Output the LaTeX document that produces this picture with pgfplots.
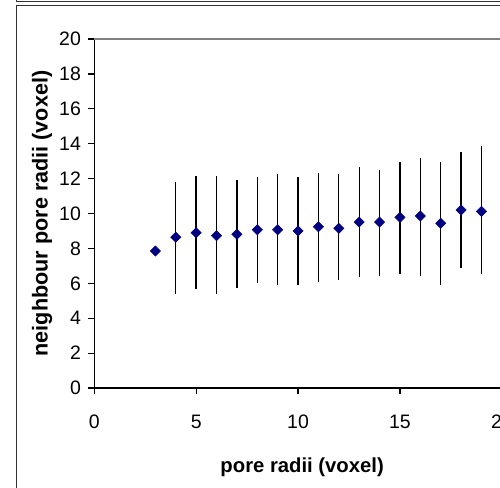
\documentclass[border=0pt]{standalone}
\usepackage{fontspec}
\setmainfont{Liberation Sans}
\usepackage{pgfplots}
\pgfplotsset{compat=1.18}
\usepackage{pgfplotstable}
\definecolor{excelnavy}{HTML}{000080}
\definecolor{framegray}{HTML}{333333}

% x, mean, error up, error down
\pgfplotstableread{
x  y      ep    em
3  7.85   0     0
4  8.64   3.15  3.25
5  8.90   3.25  3.25
6  8.73   3.42  3.34
7  8.81   3.09  3.06
8  9.07   3.00  3.07
9  9.07   3.17  3.17
10 9.00   3.07  3.10
11 9.24   3.10  3.15
12 9.15   3.09  2.98
13 9.51   3.17  3.15
14 9.51   2.98  3.07
15 9.78   3.15  3.25
16 9.86   3.34  3.42
17 9.44   3.49  3.54
18 10.20  3.34  3.32
19 10.12  3.75  3.59
}\poredata

\begin{document}
\begin{tikzpicture}
% picture is a crop of a larger sheet
\useasboundingbox (-70.7pt,-74.25pt) rectangle (304.3pt,291pt);
\clip (-70.7pt,-74.25pt) rectangle (304.3pt,291pt);
% chart frame, and the bottom of the one above it
\draw[framegray, line width=1.1pt] (-58.35pt,-80pt) -- (-58.35pt,286.9pt) -- (320pt,286.9pt);
\draw[framegray, line width=1.1pt] (-58.35pt,295pt) -- (-58.35pt,289.9pt) -- (320pt,289.9pt);
\begin{axis}[
    scale only axis,
    width=305.7pt, height=261.75pt,
    at={(0,0)}, anchor=south west,
    xmin=0, xmax=20, ymin=0, ymax=20,
    xtick={0,5,10,15,20}, ytick={0,2,...,20},
    axis x line*=bottom, axis y line*=left,
    axis line style={black, line width=0.9pt, -},
    tick align=outside, major tick length=4.5pt,
    tick style={black, line width=0.9pt},
    tick label style={font=\fontsize{14.6}{17}\selectfont,
        /pgf/number format/assume math mode=true},
    xticklabel style={yshift=-12pt},
    yticklabel style={xshift=-2pt},
    xlabel={pore radii (voxel)},
    ylabel={neighbour pore radii (voxel)},
    xlabel style={font=\bfseries\fontsize{15.2}{17}\selectfont,
        at={(axis description cs:0.51,-0.226)}, anchor=center},
    ylabel style={font=\bfseries\fontsize{16.2}{18}\selectfont,
        at={(axis description cs:-0.1282,0.5)}, anchor=center},
    clip=false,
]
\draw[gray, line width=0.9pt] (axis cs:0,20) -- (axis cs:21,20);
\addplot[only marks, mark=square*, mark size=2.7pt,
    mark options={rotate=45, fill=excelnavy, draw=excelnavy},
    error bars/.cd, y dir=both, y explicit,
    error mark=none,
    error bar style={black, line width=1pt}]
    table[x=x, y=y, y error plus=ep, y error minus=em] {\poredata};
\end{axis}
\end{tikzpicture}
\end{document}
